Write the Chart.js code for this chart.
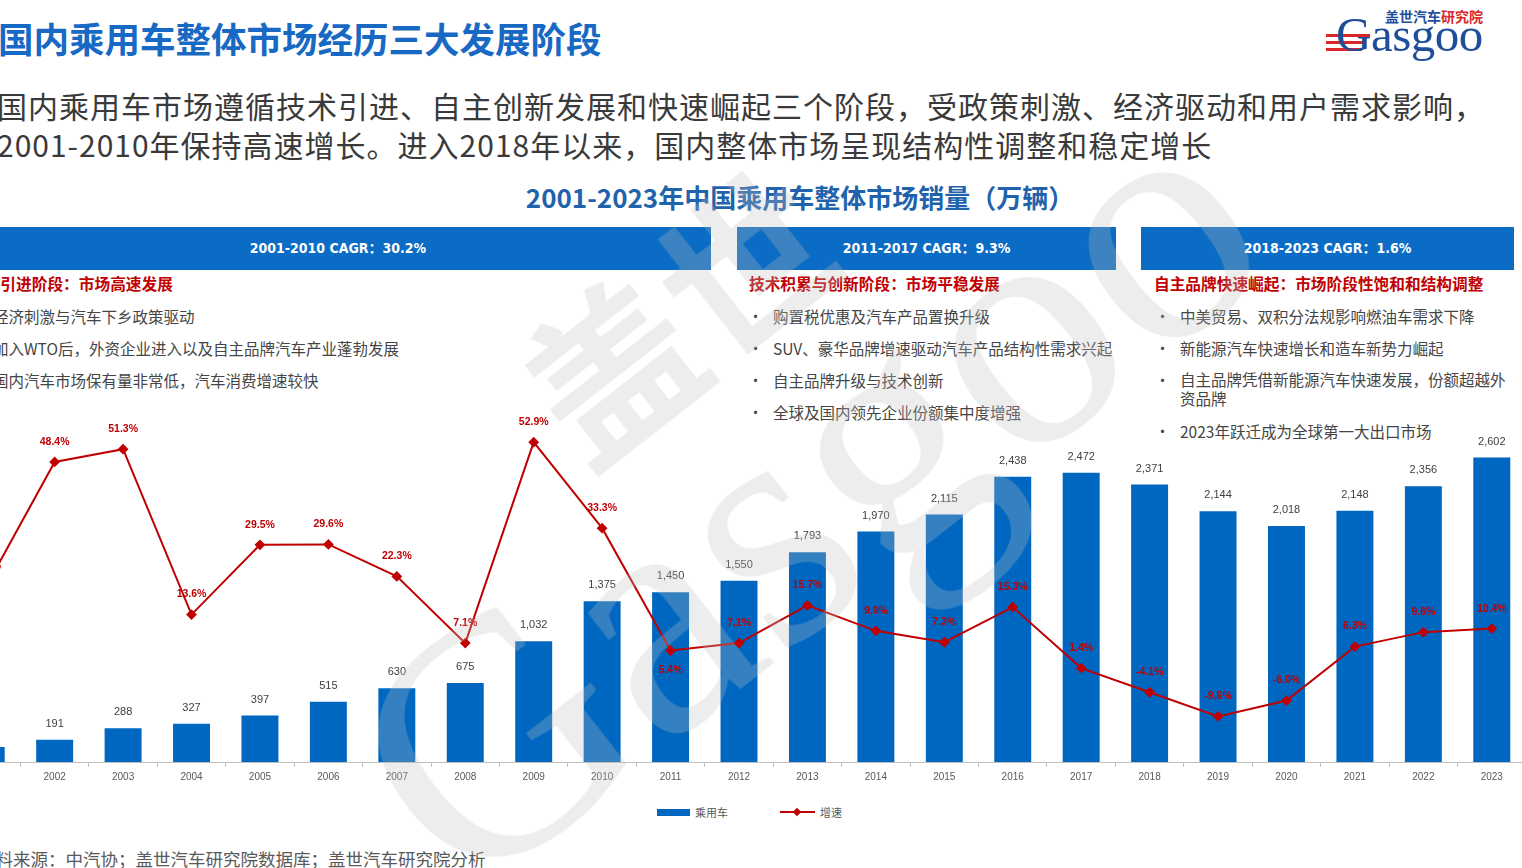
<!DOCTYPE html>
<html>
<head>
<meta charset="utf-8">
<script src="https://cdn.jsdelivr.net/npm/chart.js@4.4.1/dist/chart.umd.min.js"></script>
<style>
  html, body { margin:0; padding:0; }
  body { width:1522px; height:868px; overflow:hidden; position:relative; background:#fff;
         font-family:"Noto Sans CJK SC", "Noto Sans", sans-serif; }
  .abs { position:absolute; white-space:nowrap; }
  .title { left:-2px; top:18px; font-size:35.5px; font-weight:700; color:#1769c4; line-height:40px; }
  .sub { left:-3px; top:86px; font-size:30px; letter-spacing:1px; color:#3a3a3a; line-height:39px; }
  .ctitle { left:300px; width:1000px; text-align:center; top:182px; font-size:26px; font-weight:700; color:#1f63ad; line-height:30px; }
  .band { top:227px; height:43px; background:#0a6cc4; color:#fff; text-align:center; line-height:43px;
          font-family:"DejaVu Sans Condensed","DejaVu Sans","Noto Sans CJK SC",sans-serif; font-stretch:condensed; font-size:14px; font-weight:600; }
  .head { font-size:15.7px; font-weight:700; color:#c00000; line-height:20px; }
  .bl { font-size:15.5px; color:#454545; line-height:20px; }
  .dot { font-size:15px; color:#454545; line-height:20px; }
  .src { left:-22px; top:848px; font-size:17.5px; color:#595959; line-height:22px; }
  .wm { position:absolute; pointer-events:none; color:rgba(190,190,190,0.28); white-space:nowrap; }
  .leg { font-size:11px; color:#595959; line-height:14px; }
</style>
</head>
<body>
<div class="abs title">国内乘用车整体市场经历三大发展阶段</div>
<div class="abs sub">国内乘用车市场遵循技术引进、自主创新发展和快速崛起三个阶段，受政策刺激、经济驱动和用户需求影响，<br>2001-2010年保持高速增长。进入2018年以来，国内整体市场呈现结构性调整和稳定增长</div>

<!-- logo -->
<div class="abs" style="left:1385px; top:7px; font-size:14px; font-weight:700; line-height:18px;"><span style="color:#1f4e9a">盖世汽车</span><span style="color:#d9262b">研究院</span></div>
<div class="abs" style="left:1326px; top:34px; width:44px; height:3px; background:#d9262b;"></div>
<div class="abs" style="left:1326px; top:41px; width:40px; height:3px; background:#d9262b;"></div>
<div class="abs" style="left:1326px; top:48px; width:36px; height:3px; background:#d9262b;"></div>
<div class="abs" style="left:1336px; top:7px; font-family:'Liberation Serif',serif; font-size:49px; color:#1f4e9a; line-height:56px; letter-spacing:-0.5px;">Gasgoo</div>

<div class="abs ctitle">2001-2023年中国乘用车整体市场销量（万辆）</div>

<div class="abs band" style="left:-35px; width:746px;">2001-2010 CAGR：30.2%</div>
<div class="abs band" style="left:737px; width:379px;">2011-2017 CAGR：9.3%</div>
<div class="abs band" style="left:1141px; width:373px;">2018-2023 CAGR：1.6%</div>

<div class="abs head" style="left:-31px; top:274px;">技术引进阶段：市场高速发展</div>
<div class="abs dot" style="left:-30px; top:306px;">•</div><div class="abs bl" style="left:-7px; top:306px;">经济刺激与汽车下乡政策驱动</div>
<div class="abs dot" style="left:-30px; top:338px;">•</div><div class="abs bl" style="left:-7px; top:338px;">加入WTO后，外资企业进入以及自主品牌汽车产业蓬勃发展</div>
<div class="abs dot" style="left:-30px; top:370px;">•</div><div class="abs bl" style="left:-7px; top:370px;">国内汽车市场保有量非常低，汽车消费增速较快</div>

<div class="abs head" style="left:749px; top:274px;">技术积累与创新阶段：市场平稳发展</div>
<div class="abs dot" style="left:748px; top:306px;">•</div><div class="abs bl" style="left:773px; top:306px;">购置税优惠及汽车产品置换升级</div>
<div class="abs dot" style="left:748px; top:338px;">•</div><div class="abs bl" style="left:773px; top:338px;">SUV、豪华品牌增速驱动汽车产品结构性需求兴起</div>
<div class="abs dot" style="left:748px; top:370px;">•</div><div class="abs bl" style="left:773px; top:370px;">自主品牌升级与技术创新</div>
<div class="abs dot" style="left:748px; top:402px;">•</div><div class="abs bl" style="left:773px; top:402px;">全球及国内领先企业份额集中度增强</div>

<div class="abs head" style="left:1154px; top:274px;">自主品牌快速崛起：市场阶段性饱和和结构调整</div>
<div class="abs dot" style="left:1155px; top:306px;">•</div><div class="abs bl" style="left:1180px; top:306px;">中美贸易、双积分法规影响燃油车需求下降</div>
<div class="abs dot" style="left:1155px; top:338px;">•</div><div class="abs bl" style="left:1180px; top:338px;">新能源汽车快速增长和造车新势力崛起</div>
<div class="abs dot" style="left:1155px; top:370px;">•</div><div class="abs bl" style="left:1180px; top:370px; line-height:19px;">自主品牌凭借新能源汽车快速发展，份额超越外<br>资品牌</div>
<div class="abs dot" style="left:1155px; top:421px;">•</div><div class="abs bl" style="left:1180px; top:421px;">2023年跃迁成为全球第一大出口市场</div>

<div style="position:absolute; left:-54px; top:380px; width:1586px; height:412px;">
  <canvas id="c"></canvas>
</div>

<!-- legend -->
<div class="abs" style="left:657px; top:809px; width:33px; height:7px; background:#0067c1;"></div>
<div class="abs leg" style="left:695px; top:805px;">乘用车</div>
<div class="abs" style="left:780px; top:811px; width:35px; height:2px; background:#c00000;"></div>
<div class="abs" style="left:794px; top:809px; width:6px; height:6px; background:#c00000; transform:rotate(45deg);"></div>
<div class="abs leg" style="left:820px; top:805px;">增速</div>

<div class="abs src">资料来源：中汽协；盖世汽车研究院数据库；盖世汽车研究院分析</div>

<!-- watermark -->
<div class="wm" style="left:200px; top:140px; width:1200px; height:500px; transform:rotate(-38deg); transform-origin:50% 50%;">
  <div style="position:absolute; left:380px; top:20px; font-size:170px; font-weight:700; line-height:180px; font-family:'Noto Sans CJK SC';">盖世</div>
  <div style="position:absolute; left:20px; top:170px; font-size:340px; line-height:330px; font-family:'Liberation Serif',serif;">Gasgoo</div>
</div>

<script>
const years = ['2001','2002','2003','2004','2005','2006','2007','2008','2009','2010','2011','2012','2013','2014','2015','2016','2017','2018','2019','2020','2021','2022','2023'];
const sales = [129,191,288,327,397,515,630,675,1032,1375,1450,1550,1793,1970,2115,2438,2472,2371,2144,2018,2148,2356,2602];
const growth = [20.0,48.4,51.3,13.6,29.5,29.6,22.3,7.1,52.9,33.3,5.4,7.1,15.7,9.9,7.3,15.3,1.4,-4.1,-9.6,-6.0,6.3,9.6,10.4];
const growthLabelsBelow = ['2011'];

const BAR = '#0067c1';
const RED = '#c00000';

const labelPlugin = {
  id: 'valueLabels',
  afterDatasetsDraw(chart) {
    const ctx = chart.ctx;
    ctx.save();
    ctx.textAlign = 'center';
    ctx.textBaseline = 'middle';
    chart.data.datasets.forEach((ds, di) => {
      const meta = chart.getDatasetMeta(di);
      meta.data.forEach((el, i) => {
        const v = ds.data[i];
        if (ds.type === 'bar') {
          ctx.font = '11px "Liberation Sans", Arial, sans-serif';
          ctx.fillStyle = '#404040';
          ctx.fillText(v.toLocaleString('en-US'), el.x, el.y - 16);
        } else {
          ctx.font = 'bold 10.5px "Liberation Sans", Arial, sans-serif';
          ctx.fillStyle = RED;
          const below = growthLabelsBelow.includes(chart.data.labels[i]);
          ctx.fillText(v.toFixed(1) + '%', el.x, below ? el.y + 20 : el.y - 20);
        }
      });
    });
    ctx.restore();
  }
};

new Chart(document.getElementById('c'), {
  type: 'bar',
  data: {
    labels: years,
    datasets: [
      { type: 'line', label: '增速', data: growth, yAxisID: 'y2', order: 0,
        borderColor: RED, backgroundColor: RED, borderWidth: 2,
        pointStyle: 'rectRot', pointRadius: 4, pointBackgroundColor: RED, pointBorderColor: RED, tension: 0 },
      { type: 'bar', label: '乘用车', data: sales, yAxisID: 'y', order: 1,
        backgroundColor: BAR, barPercentage: 0.54, categoryPercentage: 1 }
    ]
  },
  options: {
    responsive: true,
    maintainAspectRatio: false,
    animation: false,
    layout: { padding: { top: 31, left: 0, right: 0, bottom: 0 } },
    plugins: { legend: { display: false }, tooltip: { enabled: false } },
    scales: {
      x: {
        grid: { offset: true, drawOnChartArea: false, drawTicks: true, tickLength: 5, color: '#bfbfbf' },
        border: { color: '#bfbfbf', width: 1 },
        ticks: { font: { size: 10, family: '"Liberation Sans", Arial, sans-serif' }, color: '#595959', padding: 4, maxRotation: 0, autoSkip: false },
        afterFit(scale) { scale.height = 30; }
      },
      y: { display: false, min: 0, max: 3000 },
      y2: { display: false, min: -20, max: 60 }
    }
  },
  plugins: [labelPlugin]
});
</script>
</body>
</html>
